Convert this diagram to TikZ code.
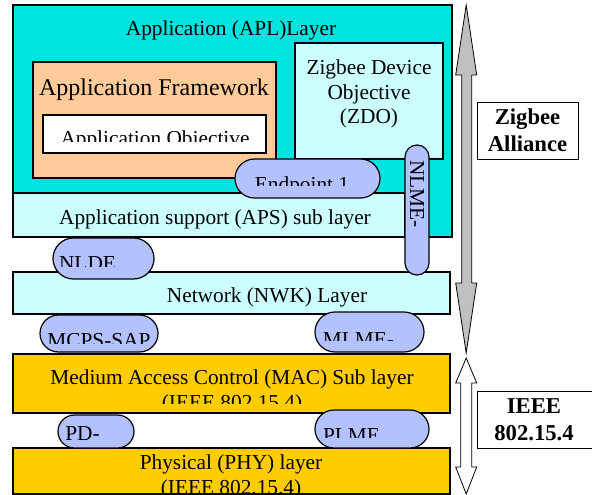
\documentclass[tikz,border=0pt]{standalone}
\usepackage{fontspec}
\setmainfont{Liberation Serif}
\usetikzlibrary{shapes.misc}
\definecolor{aplcyan}{HTML}{00E3DE}
\definecolor{lightcyan}{HTML}{CCFFFF}
\definecolor{peach}{HTML}{FFCC99}
\definecolor{gold}{HTML}{FFCC00}
\definecolor{pillblue}{HTML}{B3C1FF}
\definecolor{arrowgrey}{HTML}{C0C0C0}
\tikzset{
  layer/.style={draw=black, line width=1pt},
  pill/.style={rounded rectangle, draw=black, line width=0.9pt, fill=pillblue, inner sep=0pt},
  lbl/.style={anchor=base, inner sep=0pt, font=\fontsize{16}{18.4}\selectfont},
  sidelbl/.style={anchor=base, inner sep=0pt, font=\fontsize{17}{20}\selectfont\bfseries}
}

\begin{document}
\begin{tikzpicture}[x=0.75pt, y=-0.75pt]
  \useasboundingbox (0,0) rectangle (592,495);

  % Capas
  \draw[layer, fill=aplcyan] (13,5) rectangle (452,237);
  \draw[layer, fill=lightcyan] (13,193) rectangle (405,237);
  \draw[layer, fill=peach] (33,62) rectangle (276,178);
  \draw[layer, fill=white] (43,115) rectangle (266,153);
  \draw[layer, fill=lightcyan] (295,43) rectangle (443,159);
  \draw[layer, fill=lightcyan] (13,272) rectangle (450,314);
  \draw[layer, fill=gold] (13,354) rectangle (450,413);
  \draw[layer, fill=gold] (13,448) rectangle (450,494);

  % Cajas laterales
  \draw[layer, line width=0.7pt, fill=white] (477,102) rectangle (578,159);
  \draw[layer, line width=0.7pt, fill=white] (477,391) rectangle (596,448);

  % Flechas
  \draw[line width=0.6pt, fill=arrowgrey] (466.2,5) -- (476.7,75) -- (471.7,75) -- (471.7,283)
    -- (476.7,283) -- (466.2,353) -- (455.7,283) -- (461.7,283) -- (461.7,75) -- (455.7,75) -- cycle;
  \draw[line width=0.6pt, fill=white] (466.2,358) -- (476.7,383) -- (471.7,383) -- (471.7,467)
    -- (476.7,467) -- (466.2,494) -- (455.7,467) -- (460.7,467) -- (460.7,383) -- (455.7,383) -- cycle;

  % Puntos de acceso
  \foreach \n/\x/\y/\w/\h in {ep/307.5/178.5/108.75/29.25, nlde/103.5/258.5/75.75/30.75,
      mcps/99/333.5/88.5/27.75, mlme/369.5/332/81.75/30, pd/96/431.5/57/24.75, plme/372/429/85.5/28.5}
    \node[pill, minimum width=\w pt, minimum height=\h pt] (\n) at (\x,\y) {};
  \node[pill, rotate=-90, minimum width=97.5pt, minimum height=18pt] (nlme) at (417,210) {};

  % Textos
  \node[lbl] (apl) at (231,36) {Application (APL)Layer};
  \node[lbl, font=\fontsize{18}{21}\selectfont] (af) at (154,96) {Application Framework};
  \node[lbl] (zdo1) at (369,75) {Zigbee Device};
  \node[lbl] (zdo2) at (369,100) {Objective};
  \node[lbl] (zdo3) at (369,124) {(ZDO)};
  \node[lbl] (aps) at (215,224) {Application support (APS) sub layer};
  \node[lbl] (nwk) at (267,302) {Network (NWK) Layer};
  \node[lbl] (mac1) at (232,384) {Medium Access Control (MAC) Sub layer};
  \node[lbl] (phy1) at (231,469) {Physical (PHY) layer};
  \node[lbl, anchor=base west] (pdlbl) at (65,440) {PD-};
  \node[lbl, anchor=center, rotate=-90] (nlmelbl) at (417,194) {NLME-};
  \node[sidelbl] (zba1) at (527.5,125) {Zigbee};
  \node[sidelbl] (zba2) at (527.5,152) {Alliance};
  \node[sidelbl] (ieee1) at (534,413) {IEEE};
  \node[sidelbl] (ieee2) at (534,440) {802.15.4};

  % Textos recortados
  \foreach \n/\x/\y/\c/\t in {ao/155/146/142/{Application Objective}, eplbl/302/192/186/{Endpoint 1},
      nldelbl/87.5/271/266/{NLDE}, mcpslbl/99/347/343/{MCPS-SAP}, mlmelbl/358.5/346/340/{MLME-},
      plmelbl/351.5/442/437/{PLME}, mac2/232/409/403/{(IEEE 802.15.4)}, phy2/231/494/493/{(IEEE 802.15.4)}}
  {
    \begin{scope}
      \clip (0,0) rectangle (592,\c);
      \node[lbl] (\n) at (\x,\y) {\t};
    \end{scope}
  }

\end{tikzpicture}
\end{document}
